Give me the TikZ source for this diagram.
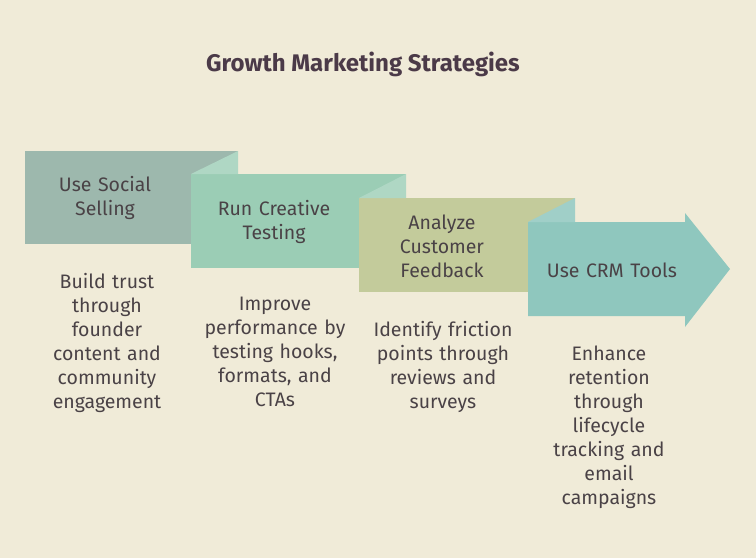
\documentclass[tikz,border=0pt]{standalone}
\usepackage{fontspec}
\setmainfont{Fira Sans}
\usetikzlibrary{positioning}
\definecolor{bgc}{HTML}{F0EBD8}
\definecolor{txtc}{HTML}{4A4246}
\definecolor{titc}{HTML}{4B3A48}
\definecolor{boxa}{HTML}{9DB8AD}
\definecolor{boxb}{HTML}{9BCDB5}
\definecolor{boxc}{HTML}{C3CB9B}
\definecolor{boxd}{HTML}{8FC7BE}
\begin{document}
\begin{tikzpicture}[x=1pt,y=-1pt]
	\tikzset{
		steptext/.style={text=txtc, font=\fontsize{19.5}{24}\selectfont, align=center, text width=170pt},
		desctext/.style={text=txtc, font=\fontsize{19.5}{24}\selectfont, align=center, text width=170pt, anchor=north},
	}
	\fill[bgc] (0,0) rectangle (756,558);
	\useasboundingbox (0,0) rectangle (756,558);
	\node[text=titc, font=\fontsize{24}{28}\selectfont\bfseries] (title) at (363,64) {Growth Marketing Strategies};

	% ribbon pieces
	\fill[boxa] (25,151) rectangle (238,244);
	\fill[boxb] (191,174) rectangle (406,268);
	\fill[boxb!80!white] (191,174) -- (238,151) -- (238,174) -- cycle;
	\fill[boxc] (359,198) rectangle (575,292);
	\fill[boxb!80!white] (359,198) -- (406,174) -- (406,198) -- cycle;
	\fill[boxd] (528,222) -- (685,222) -- (685,213) -- (730,269) -- (685,327) -- (685,316) -- (528,316) -- cycle;
	\fill[boxd!85!white] (528,222) -- (575,198) -- (575,222) -- cycle;

	\node[steptext] (social) at (105,198) {Use Social\\Selling};
	\node[steptext] (creative) at (274,222) {Run Creative\\Testing};
	\node[steptext] (feedback) at (442,246) {Analyze\\Customer\\Feedback};
	\node[steptext] (crm) at (612,270) {Use CRM Tools};

	\node[desctext] (d1) at (107,270) {Build trust\\through\\founder\\content and\\community\\engagement};
	\node[desctext] (d2) at (275,294) {Improve\\performance by\\testing hooks,\\formats, and\\CTAs};
	\node[desctext] (d3) at (443,318) {Identify friction\\points through\\reviews and\\surveys};
	\node[desctext] (d4) at (609,342) {Enhance\\retention\\through\\lifecycle\\tracking and\\email\\campaigns};
\end{tikzpicture}
\end{document}
